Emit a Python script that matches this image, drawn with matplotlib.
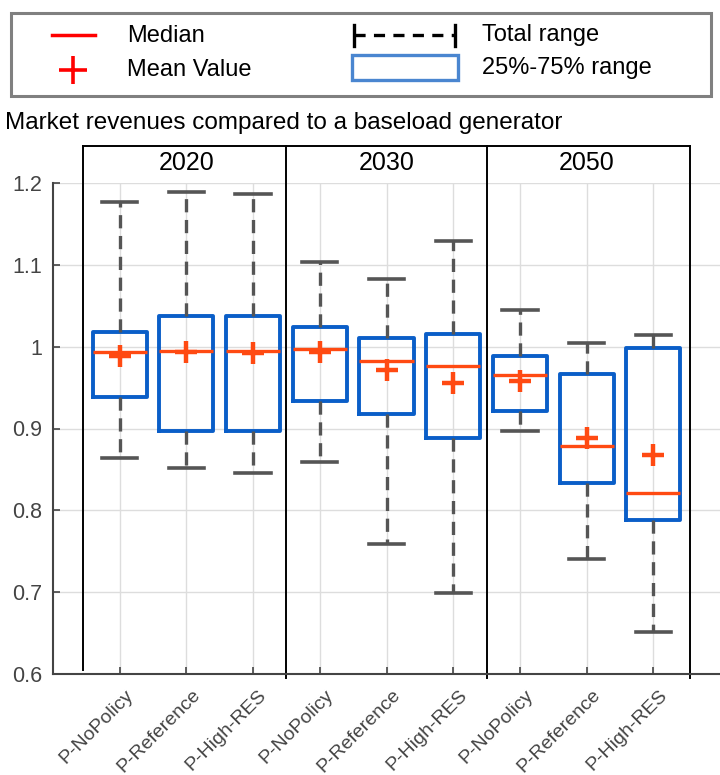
import matplotlib
matplotlib.use("Agg")
import matplotlib.pyplot as plt
from matplotlib.patches import Rectangle
from matplotlib.transforms import ScaledTranslation

plt.rcParams['font.family'] = ['Liberation Sans', 'DejaVu Sans']
plt.rcParams['lines.scale_dashes'] = False

# data
years = ['2020', '2030', '2050']
cats = ['P-NoPolicy', 'P-Reference', 'P-High-RES'] * 3
whis_hi = [1.177, 1.189, 1.186, 1.104, 1.083, 1.129, 1.045, 1.005, 1.014]
q3 = [1.018, 1.037, 1.037, 1.024, 1.011, 1.016, 0.989, 0.966, 0.998]
median = [0.993, 0.995, 0.995, 0.997, 0.983, 0.976, 0.965, 0.879, 0.821]
mean = [0.988, 0.993, 0.992, 0.994, 0.971, 0.956, 0.958, 0.889, 0.868]
q1 = [0.938, 0.897, 0.897, 0.933, 0.918, 0.889, 0.921, 0.833, 0.788]
whis_lo = [0.864, 0.852, 0.846, 0.859, 0.759, 0.699, 0.897, 0.741, 0.651]
yticks = [0.6, 0.7, 0.8, 0.9, 1.0, 1.1, 1.2]
ytick_labels = ['0.6', '0.7', '0.8', '0.9', '1', '1.1', '1.2']

blue = '#0A5EC8'
orange = '#FF4A12'
gray = '#555555'

fig = plt.figure(figsize=(7.2, 7.75), dpi=100)
ax = fig.add_axes([53/720, 1 - 674/775, 667/720, (674 - 183)/775])

stats = []
for i in range(len(cats)):
    stats.append(dict(med=median[i], q1=q1[i], q3=q3[i], whislo=whis_lo[i],
                      whishi=whis_hi[i], mean=mean[i], label=cats[i]))
pos = list(range(1, len(cats) + 1))
ax.bxp(stats, positions=pos, widths=0.81, capwidths=0.53, showmeans=True,
       showfliers=False, patch_artist=False,
       boxprops=dict(color=blue, linewidth=2.8),
       medianprops=dict(color=orange, linewidth=2.4),
       whiskerprops=dict(color=gray, linewidth=2.4, linestyle=(0, (9.5, 5.5))),
       capprops=dict(color=gray, linewidth=2.6),
       meanprops=dict(marker='+', markersize=16, markeredgewidth=3.2,
                      markeredgecolor=orange, linestyle='none'),
       zorder=3)

ax.set_xlim(0, 10)
ax.set_ylim(0.6, 1.2)
ax.set_yticks(yticks)
ax.set_yticklabels(ytick_labels)
ax.set_xticks(pos)
ax.set_xticklabels(cats, rotation=45, ha='right', va='top', rotation_mode='anchor')
ax.grid(True, color='#dddddd', linewidth=1.0, zorder=0)
ax.set_axisbelow(True)
ax.tick_params(direction='in', length=5, width=1.2, colors='#444444',
               labelcolor='#444444', labelsize=15.5)
ax.tick_params(axis='y', pad=8)
ax.tick_params(axis='x', pad=9, labelsize=14)
shift = ScaledTranslation(5/100, 0, fig.dpi_scale_trans)
for lab in ax.get_xticklabels():
    lab.set_transform(lab.get_transform() + shift)
for s in ['top', 'right']:
    ax.spines[s].set_visible(False)
for s in ['left', 'bottom']:
    ax.spines[s].set_color('#444444')
    ax.spines[s].set_linewidth(1.5)

# group frames with year headers
top = 1.245
ax.plot([0.445, 9.55], [top, top], color='black', lw=1.4, clip_on=False)
ax.plot([0.445, 0.445], [0.605, top], color='black', lw=1.4, clip_on=False)
for xs in [3.5, 6.5, 9.55]:
    ax.plot([xs, xs], [0.595, top], color='black', lw=1.4, clip_on=False)
for k, yr in enumerate(years):
    ax.text(2 + 3 * k, 1.2245, yr, ha='center', va='center', fontsize=18)

# legend and title drawn in pixel coords
ov = fig.add_axes([0, 0, 1, 1], zorder=-1)
ov.set_xlim(0, 720)
ov.set_ylim(775, 0)
ov.axis('off')
ov.add_patch(Rectangle((11, 13), 700, 83, fill=False, edgecolor='#808080', lw=2.2))
ov.plot([52, 95], [35, 35], color='red', lw=2.5)
ov.plot([73], [70], marker='+', markersize=20, markeredgewidth=2.6, color='red')
ov.text(127, 36, 'Median', fontsize=17, va='center')
ov.text(127, 70, 'Mean Value', fontsize=17, va='center')
ov.plot([354, 454], [35, 35], color='black', lw=2.4, linestyle=(0, (8, 6)))
ov.plot([354, 354], [25, 46], color='black', lw=2.4)
ov.plot([455, 455], [25, 46], color='black', lw=2.4)
ov.add_patch(Rectangle((352, 55), 106, 25, fill=False, edgecolor='#4A86D0', lw=2.4))
ov.text(482, 35, 'Total range', fontsize=17, va='center')
ov.text(482, 68, '25%-75% range', fontsize=17, va='center')
ov.text(5, 123, 'Market revenues compared to a baseload generator', fontsize=17.5, va='center')

fig.savefig('out.png', dpi=100)
